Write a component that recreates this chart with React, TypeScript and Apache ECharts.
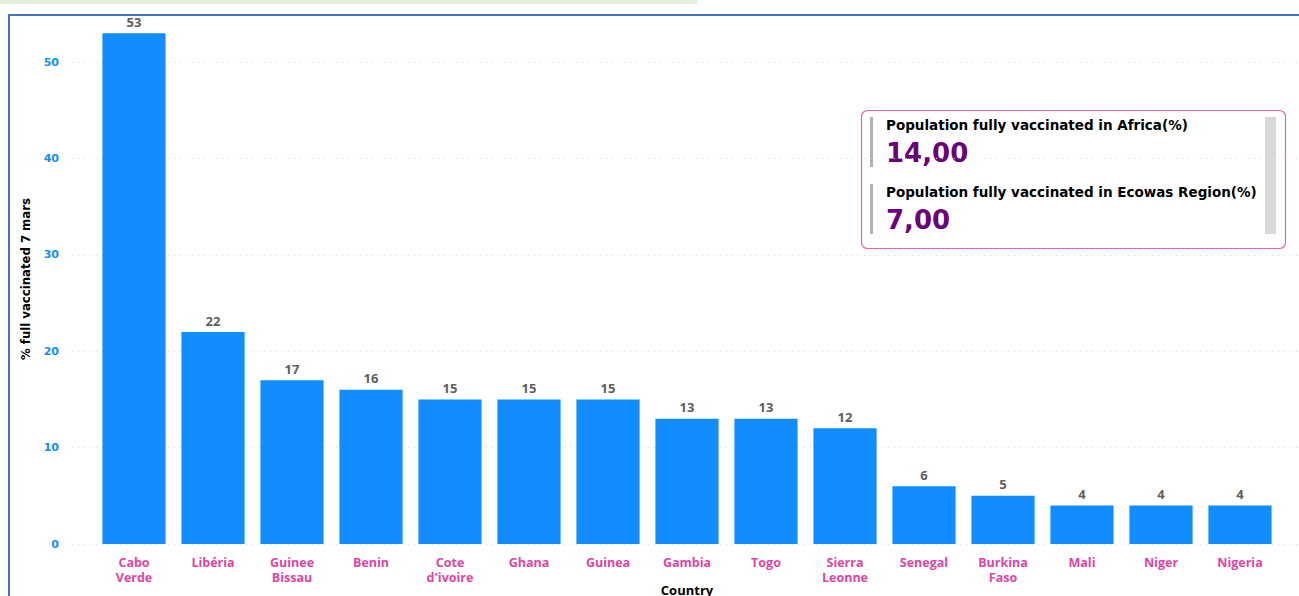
import React, { useEffect, useRef } from "react";
import * as echarts from "echarts";

const countries = [
  "Cabo\nVerde", "Libéria", "Guinee\nBissau", "Benin", "Cote\nd'ivoire", "Ghana", "Guinea",
  "Gambia", "Togo", "Sierra\nLeonne", "Senegal", "Burkina\nFaso", "Mali", "Niger", "Nigeria",
];
const vaccinated = [53, 22, 17, 16, 15, 15, 15, 13, 13, 12, 6, 5, 4, 4, 4];
const yTicks = [0, 10, 20, 30, 40, 50];
const cardTitles = [
  "Population fully vaccinated in Africa(%)",
  "Population fully vaccinated in Ecowas Region(%)",
];
const cardValues = ["14,00", "7,00"];

const FONT = "'Open Sans', sans-serif";
const DJ = "'DejaVu Sans', sans-serif";

export default function App() {
  const ref = useRef<HTMLDivElement>(null);
  useEffect(() => {
    document.body.style.margin = "0";
    const chart = echarts.init(ref.current!, undefined, { renderer: "svg" });
    const cardItems: any[] = [];
    cardTitles.forEach((t, i) => {
      const y0 = 117 + i * 67;
      cardItems.push({ type: "rect", shape: { x: 870, y: y0, width: 3, height: 50 }, style: { fill: "#b3b0ad" } });
      cardItems.push({ type: "text", x: 886, y: y0 + 1, style: { text: t, font: `bold 13.5px ${DJ}`, fill: "#000000" } });
      cardItems.push({ type: "text", x: 886, y: y0 + 23, style: { text: cardValues[i], font: `bold 26px ${DJ}`, fill: "#6b007b" } });
    });
    chart.setOption({
      animation: false,
      grid: [
        { left: 72, right: 0, top: 14, bottom: 52, outerBoundsMode: "none", containLabel: false },
        { left: 94.5, right: 19.5, top: 14, bottom: 52, outerBoundsMode: "none", containLabel: false },
      ],
      xAxis: [
        { gridIndex: 0, type: "category", data: countries, show: false },
        {
          gridIndex: 1,
          type: "category",
          data: countries,
          axisLine: { show: false },
          axisTick: { show: false },
          axisLabel: {
            color: "#e044a7",
            fontWeight: "bold",
            fontSize: 12.5,
            fontFamily: FONT,
            lineHeight: 15,
            margin: 11,
            interval: 0,
          },
          name: "Country",
          nameLocation: "middle",
          nameGap: 39,
          nameMoveOverlap: false,
          nameTextStyle: { color: "#000", fontWeight: "bold", fontSize: 13, fontFamily: FONT, verticalAlign: "top" },
        },
      ],
      yAxis: [
        {
          gridIndex: 0,
          type: "value",
          min: 0,
          max: 55,
          interval: 10,
          axisLine: { show: false },
          axisTick: { show: false },
          axisLabel: {
            color: "#118dff",
            fontWeight: "bold",
            fontSize: 11,
            fontFamily: DJ,
            margin: 13,
            customValues: yTicks,
          },
          splitLine: { show: true, lineStyle: { color: "#d9d9d9", type: [1, 5] } },
          name: "% full vaccinated 7 mars",
          nameLocation: "middle",
          nameGap: 40,
          nameTextStyle: { color: "#000", fontWeight: "bold", fontSize: 13, fontFamily: "'DejaVu Sans Condensed', sans-serif" },
        },
        {
          gridIndex: 1,
          type: "value",
          min: 0,
          max: 55,
          interval: 10,
          show: false,
          splitLine: { show: false },
        },
      ],
      series: [
        {
          type: "bar",
          xAxisIndex: 1,
          yAxisIndex: 1,
          data: vaccinated,
          barCategoryGap: "20%",
          itemStyle: { color: "#118dff" },
          label: {
            show: true,
            position: "top",
            distance: 5,
            color: "#605e5c",
            fontWeight: "bold",
            fontSize: 13,
            fontFamily: FONT,
          },
        },
      ],
      graphic: [
        { type: "rect", shape: { x: 0, y: 0, width: 697, height: 4 }, style: { fill: "#e2efda" }, z: 10 },
        { type: "rect", shape: { x: 9, y: 15, width: 1400, height: 700 }, style: { fill: "none", stroke: "#4472c4", lineWidth: 2 }, z: 10 },
        {
          type: "group",
          z: 20,
          children: [
            { type: "rect", shape: { x: 861.5, y: 110.5, width: 424, height: 138, r: 6 }, style: { fill: "#ffffff", stroke: "#e860b8", lineWidth: 1.2 } },
            { type: "rect", shape: { x: 1265, y: 117, width: 11, height: 117 }, style: { fill: "#d9d8d6" } },
            ...cardItems,
          ],
        },
      ],
    });
    return () => chart.dispose();
  }, []);
  return <div ref={ref} style={{ width: 1299, height: 596 }} />;
}
